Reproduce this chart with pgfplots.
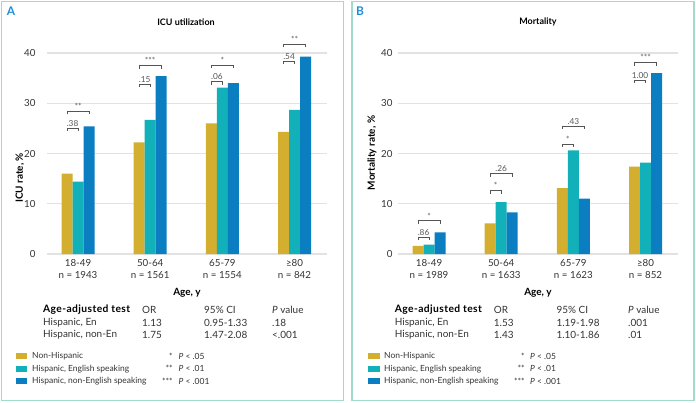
\documentclass[border=0pt]{standalone}
\usepackage{pgfplots}
\pgfplotsset{compat=1.18}
\usepackage{fontspec}
\setmainfont{Lato}
\newfontfamily\headfont[LetterSpace=4]{Lato}
\definecolor{cgold}{HTML}{D4AE2E}
\definecolor{cteal}{HTML}{12B0B8}
\definecolor{cblue}{HTML}{0B7DC1}
\definecolor{cframe}{HTML}{9FDCCB}
\definecolor{cletter}{HTML}{1E8FD6}
\definecolor{ctext}{HTML}{333333}
\definecolor{cbr}{HTML}{555555}
\definecolor{cgrid}{HTML}{E2E2E2}
\newcommand{\brk}[4]{%
  \draw[cbr, line width=0.7bp] (axis cs:#1,{#3-0.6}) -- (axis cs:#1,#3) -- (axis cs:#2,#3) -- (axis cs:#2,{#3-0.6});
  \node[anchor=south, inner sep=0pt, yshift=1.5bp, font=\fontsize{8.3}{9}\selectfont, text=cbr] at (axis cs:{(#1+#2)/2},#3) {#4};}
\pgfplotsset{
  panel/.style={
    scale only axis, width=280bp, height=201bp,
    xmin=-0.43, xmax=3.45, ymin=0, ymax=40,
    clip=false,
    axis line style={draw=none},
    major tick length=0pt,
    ytick={0,10,20,30,40},
    ymajorgrids, major grid style={cgrid, line width=1.1bp},
    xtick={0,1,2,3},
    xticklabel style={align=center, font=\fontsize{9.8}{12.3}\selectfont, text=ctext, yshift=-2bp},
    yticklabel style={font=\fontsize{9.8}{11}\selectfont, text=ctext},
    /pgf/number format/assume math mode=true,
  },
  gold/.style={ybar, bar width=11bp, bar shift=-11bp, fill=cgold, draw=none},
  teal/.style={ybar, bar width=11bp, bar shift=0bp, fill=cteal, draw=none},
  blue/.style={ybar, bar width=11bp, bar shift=11bp, fill=cblue, draw=none},
}
\begin{document}
\begin{tikzpicture}[x=1bp, y=1bp]
\path (0,0) rectangle (696,402);
\draw[cframe, line width=1.2bp] (1.5,1.5) rectangle (343.5,400.5);
\draw[cframe, line width=1.2bp] (352,1.5) rectangle (694,400.5);
% Panel A
\begin{axis}[panel, at={(47bp,148bp)}, anchor=south west,
  xticklabels={{18-49\\n = 1943},{50-64\\n = 1561},{65-79\\n = 1554},{≥80\\n = 842}},
  yticklabel style={xshift=-8bp}]
\addplot[gold] coordinates {(0,16.0) (1,22.2) (2,26.0) (3,24.3)};
\addplot[teal] coordinates {(0,14.4) (1,26.7) (2,33.1) (3,28.7)};
\addplot[blue] coordinates {(0,25.4) (1,35.4) (2,34.0) (3,39.3)};
\brk{-0.152}{0}{25.1}{.38}
\brk{-0.152}{0.152}{28.4}{**}
\brk{0.848}{1}{33.8}{.15}
\brk{0.848}{1.152}{37.5}{***}
\brk{1.848}{2}{34.3}{.06}
\brk{1.848}{2.152}{37.6}{*}
\brk{2.848}{3}{38.4}{.54}
\brk{2.848}{3.152}{41.7}{**}
\end{axis}
% Panel B
\begin{axis}[panel, at={(398bp,148bp)}, anchor=south west,
  xticklabels={{18-49\\n = 1989},{50-64\\n = 1633},{65-79\\n = 1623},{≥80\\n = 852}},
  yticklabel style={xshift=-2bp}]
\addplot[gold] coordinates {(0,1.6) (1,6.1) (2,13.1) (3,17.4)};
\addplot[teal] coordinates {(0,1.85) (1,10.3) (2,20.6) (3,18.2)};
\addplot[blue] coordinates {(0,4.3) (1,8.3) (2,11.0) (3,36.0)};
\brk{-0.152}{0}{3.3}{.86}
\brk{-0.152}{0.152}{6.6}{*}
\brk{0.848}{1}{12.6}{*}
\brk{0.848}{1.152}{16.0}{.26}
\brk{1.848}{2}{21.9}{*}
\brk{1.848}{2.152}{25.5}{.43}
\brk{2.848}{3}{34.6}{1.00}
\brk{2.848}{3.152}{38.1}{***}
\end{axis}
% letters and titles
\node[font=\fontsize{12}{14}\selectfont\bfseries, text=cletter] at (11,391) {A};
\node[font=\fontsize{12}{14}\selectfont\bfseries, text=cletter] at (360,391) {B};
\node[font=\fontsize{9}{11}\selectfont\bfseries, text=black] at (186,380) {ICU utilization};
\node[font=\fontsize{9}{11}\selectfont\bfseries, text=black] at (538,380) {Mortality};
\node[rotate=90, font=\fontsize{10}{12}\selectfont\bfseries, text=black] at (20,224) {ICU rate, \%};
\node[rotate=90, font=\fontsize{10}{12}\selectfont\bfseries, text=black] at (372,249) {Mortality rate, \%};
\node[font=\fontsize{10}{12}\selectfont\bfseries, text=black] at (187,109) {Age, y};
\node[font=\fontsize{10}{12}\selectfont\bfseries, text=black] at (538,109) {Age, y};
% tables
\begin{scope}[every node/.style={anchor=west, inner sep=0pt, font=\fontsize{10}{11}\selectfont, text=ctext}]
\node[font=\headfont\fontsize{10.3}{11}\selectfont\bfseries, text=black] at (43,92) {Age-adjusted test};
\node at (142,92) {OR}; \node at (204,92) {95\% CI}; \node at (272,92) {\textit{P} value};
\node at (43,79.3) {Hispanic, En}; \node at (142,79.3) {1.13}; \node at (204,79.3) {0.95-1.33}; \node at (272,79.3) {.18};
\node at (43,67) {Hispanic, non-En}; \node at (142,67) {1.75}; \node at (204,67) {1.47-2.08}; \node at (272,67) {<.001};
\node[font=\headfont\fontsize{10.3}{11}\selectfont\bfseries, text=black] at (394.7,92) {Age-adjusted test};
\node at (493.7,92) {OR}; \node at (556.3,92) {95\% CI}; \node at (628,92) {\textit{P} value};
\node at (394.7,79.3) {Hispanic, En}; \node at (493.7,79.3) {1.53}; \node at (556.3,79.3) {1.19-1.98}; \node at (628,79.3) {.001};
\node at (394.7,67) {Hispanic, non-En}; \node at (493.7,67) {1.43}; \node at (556.3,67) {1.10-1.86}; \node at (628,67) {.01};
\end{scope}
% legends
\begin{scope}[every node/.style={anchor=west, inner sep=0pt, font=\fontsize{8.5}{10}\selectfont, text=ctext}]
\fill[cgold] (16,43) rectangle (27,49); \fill[cteal] (16,30.3) rectangle (27,36.3); \fill[cblue] (16,18) rectangle (27,24);
\node at (32,46) {Non-Hispanic}; \node at (32,33.3) {Hispanic, English speaking}; \node at (32,21) {Hispanic, non-English speaking};
\node[anchor=east] at (173,46) {*}; \node[anchor=east] at (173,33.3) {**}; \node[anchor=east] at (173,21) {***};
\node at (178.5,46) {\textit{P} < .05}; \node at (178.5,33.3) {\textit{P} < .01}; \node at (178.5,21) {\textit{P} < .001};
\fill[cgold] (368,43) rectangle (380,49); \fill[cteal] (368,30.3) rectangle (380,36.3); \fill[cblue] (368,18) rectangle (380,24);
\node at (384,46) {Non-Hispanic}; \node at (384,33.3) {Hispanic, English speaking}; \node at (384,21) {Hispanic, non-English speaking};
\node[anchor=east] at (525,46) {*}; \node[anchor=east] at (525,33.3) {**}; \node[anchor=east] at (525,21) {***};
\node at (530,46) {\textit{P} < .05}; \node at (530,33.3) {\textit{P} < .01}; \node at (530,21) {\textit{P} < .001};
\end{scope}
\end{tikzpicture}
\end{document}
